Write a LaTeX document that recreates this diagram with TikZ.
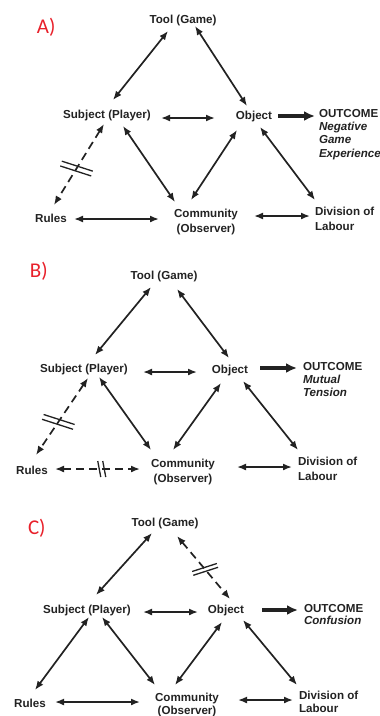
\documentclass[tikz,border=0pt]{standalone}
\usepackage{fontspec}
\setmainfont{Liberation Sans}
\newfontfamily\labelfont{Carlito}
\usetikzlibrary{arrows.meta}
\definecolor{txt}{HTML}{222222}
\definecolor{lblred}{HTML}{E8202A}
\begin{document}
\begin{tikzpicture}[x=1pt,y=-1pt,
  every node/.style={inner sep=0pt, outer sep=0pt, text=txt, font=\fontsize{11.6}{15.5}\selectfont\bfseries},
  lbl/.style={anchor=base west, font=\labelfont\fontsize{21}{21}\selectfont, text=lblred},
  ent/.style={anchor=base},
  blk/.style={anchor=base west, align=left},
  cblk/.style={anchor=base, align=center},
  link/.style={draw=txt, line width=1.7pt, {Latex[length=9pt,width=7pt]}-{Latex[length=9pt,width=7pt]}},
  broken/.style={link, dash pattern=on 8pt off 5pt},
  result/.style={draw=txt, line width=4pt, -{Latex[length=11pt,width=10pt]}},
  bar/.style={draw=txt, line width=1.3pt},
]
\useasboundingbox (0,0) rectangle (380,716);

% ---------------- Panel A ----------------
% multi-line nodes: base anchor = baseline of the last line
\node[lbl] (labA) at (37,33) {A)};
\node[ent] (toolA) at (183,23) {Tool (Game)};
\node[ent] (subjA) at (107,118) {Subject (Player)};
\node[ent] (objA) at (254,119) {Object};
\node[blk, font=\fontsize{11.6}{13.3}\selectfont\bfseries] (outA) at (319,157)
  {OUTCOME\\\textit{Negative}\\\textit{Game}\\\textit{Experience}};
\node[ent] (rulesA) at (51,222) {Rules};
\node[cblk] (commA) at (206,232.5) {Community\\(Observer)};
\node[blk] (divA) at (315,230.5) {Division of\\Labour};

\draw[link] ([shift={(-15,8)}]toolA.base) -- ([shift={(6,-18)}]subjA.base);
\draw[link] ([shift={(12,3)}]toolA.base) -- ([shift={(-7,-13)}]objA.base);
\draw[link] ([shift={(54,0)}]subjA.base) -- ([shift={(-39,-1)}]objA.base);
\draw[result] ([shift={(24,-3)}]objA.base) -- ([shift={(-4,-41)}]outA.base west);
\draw[link] ([shift={(16,8)}]subjA.base) -- ([shift={(-31,-30.5)}]commA.base);
\draw[link] ([shift={(-17,11)}]objA.base) -- ([shift={(-15,-32.5)}]commA.base);
\draw[link] ([shift={(6,8)}]objA.base) -- ([shift={(0,-30.5)}]divA.base west);
\draw[broken] ([shift={(-3,6)}]subjA.base) -- coordinate[pos=0.55] (cutA) ([shift={(3,-17)}]rulesA.base);
\draw[link] ([shift={(23,-3)}]rulesA.base) -- ([shift={(-47,-13.5)}]commA.base);
\draw[link] ([shift={(48,-16.5)}]commA.base) -- ([shift={(-5,-14.5)}]divA.base west);
\draw[bar] ([shift={(-14.7,-7.4)}]cutA) -- ([shift={(16.3,2.6)}]cutA);
\draw[bar] ([shift={(-16.3,-2.6)}]cutA) -- ([shift={(14.7,7.4)}]cutA);

% ---------------- Panel B ----------------
\node[lbl] (labB) at (30,277) {B)};
\node[ent] (toolB) at (164,279) {Tool (Game)};
\node[ent] (subjB) at (84,372) {Subject (Player)};
\node[ent] (objB) at (230,373) {Object};
\node[blk, font=\fontsize{11.6}{13}\selectfont\bfseries] (outB) at (303,396)
  {OUTCOME\\\textit{Mutual}\\\textit{Tension}};
\node[ent] (rulesB) at (32,474) {Rules};
\node[cblk, font=\fontsize{11.6}{15}\selectfont\bfseries] (commB) at (183,482) {Community\\(Observer)};
\node[blk, font=\fontsize{11.6}{15}\selectfont\bfseries] (divB) at (298,480) {Division of\\Labour};

\draw[link] ([shift={(-13,8)}]toolB.base) -- ([shift={(11,-17)}]subjB.base);
\draw[link] ([shift={(13,10)}]toolB.base) -- ([shift={(-1,-15)}]objB.base);
\draw[link] ([shift={(59,0)}]subjB.base) -- ([shift={(-33,-1)}]objB.base);
\draw[result] ([shift={(30,-5)}]objB.base) -- ([shift={(-6,-28)}]outB.base west);
\draw[link] ([shift={(15,5)}]subjB.base) -- ([shift={(-32,-32)}]commB.base);
\draw[link] ([shift={(-9,10)}]objB.base) -- ([shift={(-10,-32)}]commB.base);
\draw[link] ([shift={(13,8)}]objB.base) -- ([shift={(0,-30)}]divB.base west);
\draw[broken] ([shift={(4,6)}]subjB.base) -- coordinate[pos=0.57] (cutB1) ([shift={(4,-19)}]rulesB.base);
\draw[broken] ([shift={(23,-5)}]rulesB.base) -- coordinate[pos=0.55] (cutB2) ([shift={(-43,-13)}]commB.base);
\draw[link] ([shift={(54,-15)}]commB.base) -- ([shift={(-6,-13)}]divB.base west);
\draw[bar] ([shift={(-14.7,-7.4)}]cutB1) -- ([shift={(16.3,2.6)}]cutB1);
\draw[bar] ([shift={(-16.3,-2.6)}]cutB1) -- ([shift={(14.7,7.4)}]cutB1);
\draw[bar] ([shift={(-1,8)}]cutB2) -- ([shift={(-4,-8)}]cutB2);
\draw[bar] ([shift={(4,8)}]cutB2) -- ([shift={(1,-8)}]cutB2);

% ---------------- Panel C ----------------
\node[lbl] (labC) at (28,534) {C)};
\node[ent] (toolC) at (165,526) {Tool (Game)};
\node[ent] (subjC) at (87,613) {Subject (Player)};
\node[ent] (objC) at (226,613) {Object};
\node[blk, font=\fontsize{11.6}{12}\selectfont\bfseries] (outC) at (304,624)
  {OUTCOME\\\textit{Confusion}};
\node[ent] (rulesC) at (30,707) {Rules};
\node[cblk, font=\fontsize{11.6}{13}\selectfont\bfseries] (commC) at (187,714) {Community\\(Observer)};
\node[blk, font=\fontsize{11.6}{13}\selectfont\bfseries] (divC) at (299,712) {Division of\\Labour};

\draw[link] ([shift={(-13,7)}]toolC.base) -- ([shift={(9,-18)}]subjC.base);
\draw[broken] ([shift={(12,10)}]toolC.base) -- coordinate[pos=0.53] (cutC) ([shift={(4,-14)}]objC.base);
\draw[link] ([shift={(56,-1)}]subjC.base) -- ([shift={(-28,-1)}]objC.base);
\draw[result] ([shift={(36,-3)}]objC.base) -- ([shift={(-6,-14)}]outC.base west);
\draw[link] ([shift={(2,4)}]subjC.base) -- ([shift={(5,-17)}]rulesC.base);
\draw[link] ([shift={(15,4)}]subjC.base) -- ([shift={(-32,-29)}]commC.base);
\draw[link] ([shift={(-4,9)}]objC.base) -- ([shift={(-12,-29)}]commC.base);
\draw[link] ([shift={(17,7)}]objC.base) -- ([shift={(-2,-27)}]divC.base west);
\draw[link] ([shift={(25,-5)}]rulesC.base) -- ([shift={(-47,-12)}]commC.base);
\draw[link] ([shift={(51,-14)}]commC.base) -- ([shift={(-6,-12)}]divC.base west);
\draw[bar] ([shift={(-11.8,5.9)}]cutC) -- ([shift={(13,-2.1)}]cutC);
\draw[bar] ([shift={(-13,2.1)}]cutC) -- ([shift={(11.8,-5.9)}]cutC);
\end{tikzpicture}
\end{document}
